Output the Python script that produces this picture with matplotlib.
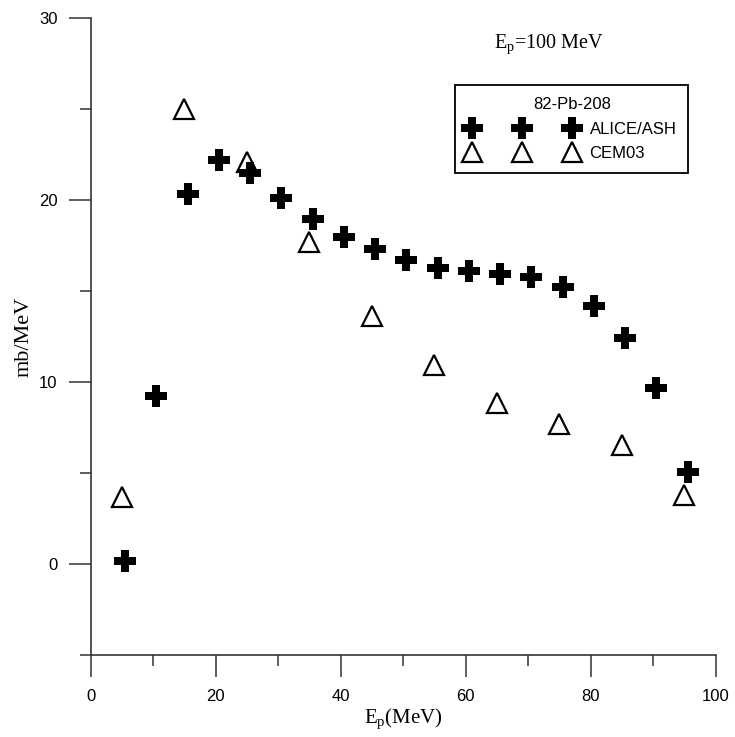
import numpy as np
import matplotlib
matplotlib.use('Agg')
import matplotlib.pyplot as plt
from matplotlib.ticker import MultipleLocator

# Data (mb/MeV vs proton energy)
alice_e = [5.5, 10.5, 15.5, 20.5, 25.5, 30.5, 35.5, 40.5, 45.5, 50.5,
           55.5, 60.5, 65.5, 70.5, 75.5, 80.5, 85.5, 90.5, 95.5]
alice_y = [0.15, 9.23, 20.35, 22.22, 21.48, 20.11, 18.98, 17.97, 17.29, 16.69,
           16.29, 16.08, 15.92, 15.77, 15.22, 14.16, 12.42, 9.69, 5.05]
cem_e = [5, 15, 25, 35, 45, 55, 65, 75, 85, 95]
cem_y = [3.70, 25.0, 22.1, 17.69, 13.65, 10.92, 8.85, 7.71, 6.51, 3.8]

sans = 'Liberation Sans'
serif = 'Liberation Serif'
plt.rcParams['font.family'] = sans
plt.rcParams['mathtext.fontset'] = 'custom'
plt.rcParams['mathtext.rm'] = serif
plt.rcParams['mathtext.it'] = serif

W, H = 735, 737
fig = plt.figure(figsize=(W / 100, H / 100), dpi=100)
x0, x1 = 90.7, 715.7
y0, y1 = 18.3, 654.7
ax = fig.add_axes([x0 / W, 1 - y1 / H, (x1 - x0) / W, (y1 - y0) / H])

spine_col = '#333333'

ax.plot(alice_e, alice_y, linestyle='', marker='P', markersize=16.5,
        color='black', markeredgewidth=0, label='ALICE/ASH', clip_on=False, zorder=3)
ax.plot(cem_e, cem_y, linestyle='', marker='^', markersize=15,
        markerfacecolor='none', markeredgecolor='black', markeredgewidth=1.6,
        label='CEM03', clip_on=False, zorder=2)

ax.set_xlim(0, 100)
ax.set_ylim(-5, 30)
ax.xaxis.set_major_locator(MultipleLocator(20))
ax.xaxis.set_minor_locator(MultipleLocator(10))
ax.yaxis.set_major_locator(MultipleLocator(10))
ax.yaxis.set_minor_locator(MultipleLocator(5))

for s in ['top', 'right']:
    ax.spines[s].set_visible(False)
for s in ['left', 'bottom']:
    ax.spines[s].set_color(spine_col)
    ax.spines[s].set_linewidth(1.2)

ax.tick_params(which='major', length=16, width=1.1, color=spine_col, labelsize=12)
ax.tick_params(which='minor', length=8, width=1.1, color=spine_col)
ax.tick_params(axis='x', which='major', pad=8.5)
ax.tick_params(axis='y', which='major', pad=8)

ax.set_xlabel(r'E$_\mathrm{p}$(MeV)', family=serif, fontsize=15, labelpad=2)
ax.set_ylabel('mb/MeV', family=serif, fontsize=16, labelpad=4)

ax.text(0.733, 0.96, r'E$_\mathrm{p}$=100 MeV', transform=ax.transAxes,
        family=serif, fontsize=14.5, ha='center', va='center')

leg = ax.legend(loc='upper left', bbox_to_anchor=(455 / W, 1 - 85 / H),
                bbox_transform=fig.transFigure, borderaxespad=0,
                numpoints=3, handlelength=6.6, handletextpad=0.75,
                labelspacing=0.58, borderpad=0.72, fontsize=12,
                title='82-Pb-208', title_fontsize=12,
                fancybox=False, framealpha=1, edgecolor='black')
leg.get_frame().set_linewidth(1.3)

fig.savefig('out.png', dpi=100)
